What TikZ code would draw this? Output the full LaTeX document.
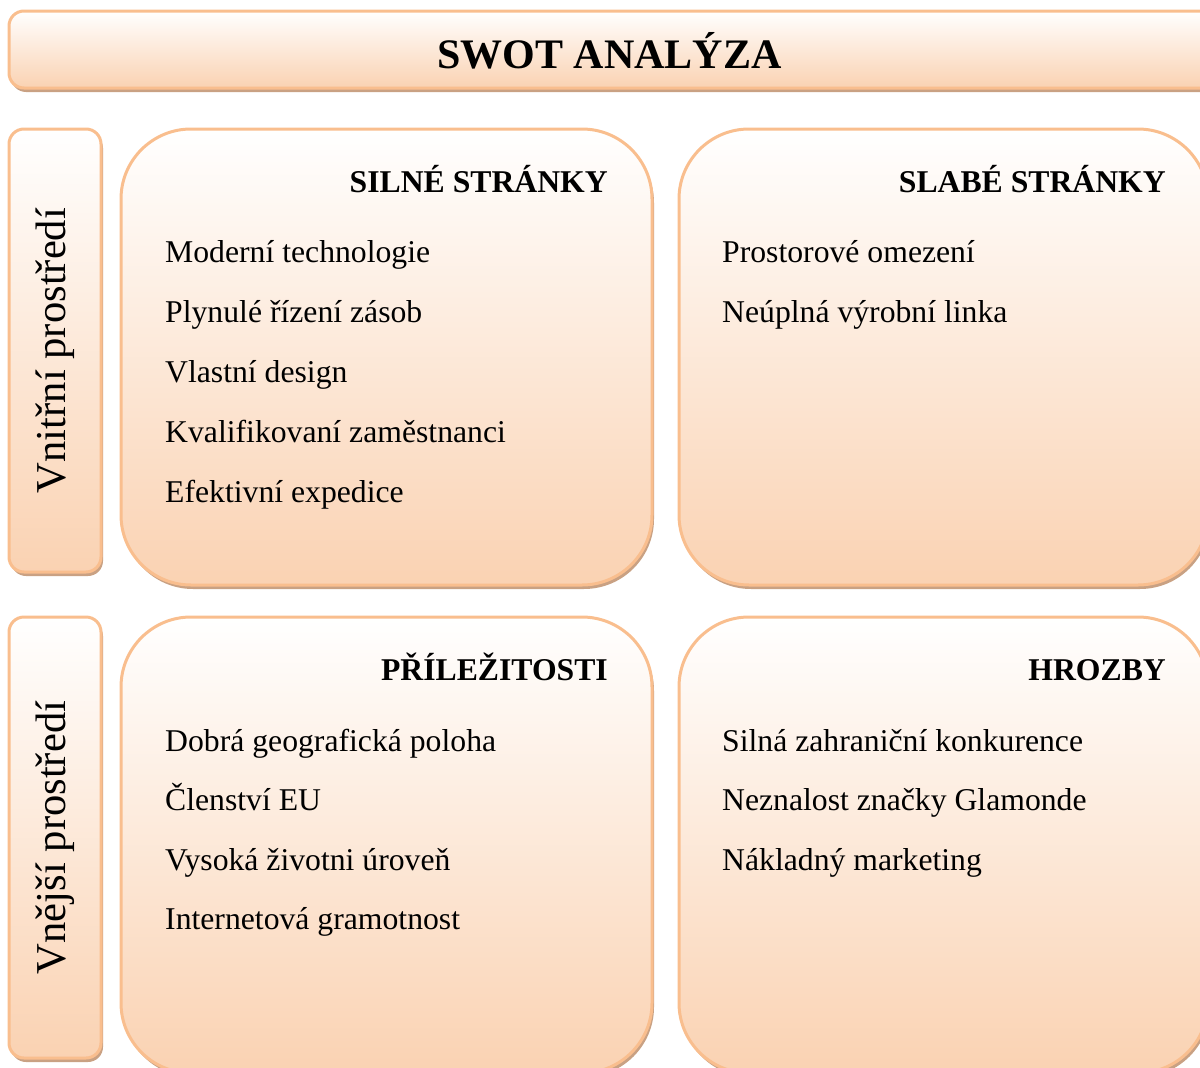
\documentclass[tikz,border=0pt]{standalone}
\usepackage{fontspec}
\setmainfont{Liberation Serif}
\usetikzlibrary{shadows}
\definecolor{swotline}{HTML}{F9BE8E}
\definecolor{swotfill}{HTML}{FAD2B2}
\definecolor{swotshadow}{HTML}{C9A183}

\begin{document}
\begin{tikzpicture}[x=1pt, y=1pt,
		panel/.style={draw=swotline, line width=3pt, top color=white, bottom color=swotfill,
					  general shadow={fill=swotshadow, shadow xshift=2pt, shadow yshift=-4pt},
					  inner sep=0pt, outer sep=0pt},
		bigbox/.style={panel, rounded corners=70pt, minimum width=531pt, minimum height=456pt},
		sidebox/.style={panel, rounded corners=15pt, minimum width=92pt, minimum height=443pt},
		heading/.style={font=\fontsize{31.7}{38}\selectfont\bfseries, anchor=base east, inner sep=0pt},
		item/.style={font=\fontsize{31.7}{38}\selectfont, anchor=base west, inner sep=0pt},
		side/.style={font=\fontsize{42.6}{50}\selectfont, rotate=90, inner sep=0pt}]
	\path[use as bounding box, clip] (0,0) rectangle (1200,-1068);

	% title bar
	\node[panel, rounded corners=15pt, minimum width=1216pt, minimum height=77pt] (title) at (617,-49.5) {};
	\node[font=\fontsize{42}{50}\selectfont\bfseries, anchor=base, inner sep=0pt] (titletext) at (609.5,-68) {SWOT ANALÝZA};

	% side labels
	\node[sidebox] (inner) at (55,-350.5) {};
	\node[sidebox, minimum height=441pt] (outer) at (55,-837.5) {};
	\node[side] (innertext) at (inner) {Vnitřní prostředí};
	\node[side] (outertext) at (outer) {Vnější prostředí};

	% quadrants
	\node[bigbox] (S) at (386.5,-357) {};
	\node[bigbox, minimum width=529pt] (W) at (943.5,-357) {};
	\node[bigbox] (O) at (386.5,-845) {};
	\node[bigbox, minimum width=529pt] (T) at (943.5,-845) {};

	\node[heading] (Shead) at (608,-192) {SILNÉ STRÁNKY};
	\node[heading] (Whead) at (1166,-192) {SLABÉ STRÁNKY};
	\node[heading] (Ohead) at (608,-680) {PŘÍLEŽITOSTI};
	\node[heading] (Thead) at (1166,-680) {HROZBY};

	\foreach \txt [count=\i] in {Moderní technologie, Plynulé řízení zásob, Vlastní design,
			Kvalifikovaní zaměstnanci, Efektivní expedice}
		\node[item] (s\i) at (165,-262-60*\i+60) {\txt};
	\foreach \txt [count=\i] in {Prostorové omezení, Neúplná výrobní linka}
		\node[item] (w\i) at (722,-262-60*\i+60) {\txt};
	\foreach \txt [count=\i] in {Dobrá geografická poloha, Členství EU, Vysoká životni úroveň,
			Internetová gramotnost}
		\node[item] (o\i) at (165,-751-59.5*\i+59.5) {\txt};
	\foreach \txt [count=\i] in {Silná zahraniční konkurence, Neznalost značky Glamonde,
			Nákladný marketing}
		\node[item] (t\i) at (722,-751-59.5*\i+59.5) {\txt};
\end{tikzpicture}
\end{document}
